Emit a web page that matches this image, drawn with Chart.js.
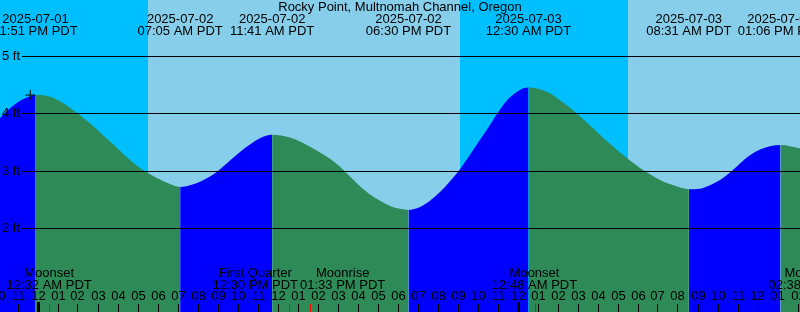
<!DOCTYPE html>
<html>
<head>
<meta charset="utf-8">
<script src="https://cdn.jsdelivr.net/npm/chart.js@4.4.1/dist/chart.umd.min.js"></script>
<style>
  html, body { margin: 0; padding: 0; background: #fff; }
  #wrap { width: 800px; height: 312px; }
</style>
</head>
<body>
<div id="wrap"><canvas id="tideChart" width="800" height="312"></canvas></div>
<script>
'use strict';

// all times are hours from 2025-07-02 00:00 PDT
let sampleHours = [-1.925, -1.425, -0.925, -0.425, -0.15, 0.575, 1.075, 1.575, 2.075, 2.575,
    3.075, 3.575, 4.075, 4.575, 5.075, 5.575, 6.075, 6.575, 7.083, 7.575,
    8.075, 8.575, 9.075, 9.575, 10.075, 10.575, 11.075, 11.683, 12.575, 13.075,
    13.575, 14.075, 14.575, 15.075, 15.575, 16.075, 16.575, 17.075, 17.575, 18.075,
    18.5, 19.075, 19.575, 20.075, 20.575, 21.075, 21.575, 22.075, 22.575, 23.075,
    23.575, 24.075, 24.5, 25.075, 25.575, 26.075, 26.925, 27.575, 28.075, 28.575,
    29.075, 29.575, 30.075, 30.575, 31.075, 31.825, 32.517, 33.075, 33.575, 34.075,
    34.675, 35.075, 35.575, 36.075, 36.575, 37.1, 37.575, 38.075];
let sampleFeet = [3.92, 4.09, 4.22, 4.30, 4.32, 4.29, 4.21, 4.10, 3.97, 3.83,
    3.67, 3.51, 3.35, 3.19, 3.05, 2.94, 2.85, 2.77, 2.72, 2.75,
    2.81, 2.90, 3.03, 3.18, 3.33, 3.46, 3.57, 3.63, 3.58, 3.51,
    3.42, 3.32, 3.21, 3.07, 2.90, 2.73, 2.59, 2.48, 2.39, 2.34,
    2.32, 2.37, 2.48, 2.63, 2.82, 3.03, 3.28, 3.54, 3.80, 4.07,
    4.28, 4.41, 4.45, 4.42, 4.35, 4.23, 4.00, 3.79, 3.63, 3.47,
    3.32, 3.18, 3.05, 2.94, 2.84, 2.74, 2.68, 2.69, 2.75, 2.84,
    3.00, 3.13, 3.27, 3.37, 3.43, 3.45, 3.43, 3.39];

let tideHours = [-0.15, 7.083, 11.683, 18.5, 24.5, 32.517, 37.1];
let tideDates = ['2025-07-01', '2025-07-02', '2025-07-02', '2025-07-02', '2025-07-03', '2025-07-03', '2025-07-03'];
let tideTimes = ['11:51 PM PDT', '07:05 AM PDT', '11:41 AM PDT', '06:30 PM PDT', '12:30 AM PDT', '08:31 AM PDT', '01:06 PM PDT'];

let sunHours = [5.45, 21.05, 29.45];   // sunrise, sunset, sunrise

let moonHours = [0.533, 12.5, 13.55, 24.8, 38.633];
let moonNames = ['Moonset', 'First Quarter', 'Moonrise', 'Moonset', 'Moonrise'];
let moonTimes = ['12:32 AM PDT', '12:30 PM PDT', '01:33 PM PDT', '12:48 AM PDT', '02:38 PM PDT'];

let depthTicks = [2, 3, 4, 5];
let markHour = [-0.41];
let markFeet = [4.32];

const title = 'Rocky Point, Multnomah Channel, Oregon';
const font = '13px "Liberation Sans", Arial, sans-serif';
const nightColor = '#00BFFF';
const dayColor = '#87CEEB';

function hourLabel(h) {
    let hh = ((h % 12) + 12) % 12;
    if (hh === 0) hh = 12;
    return (hh < 10 ? '0' : '') + hh;
}

let tideDecor = {
    id: 'tideDecor',
    beforeDatasetsDraw(chart) {
        let ctx = chart.ctx, a = chart.chartArea, x = chart.scales.x;
        let edges = [x.min].concat(sunHours, [x.max]);
        ctx.save();
        for (let i = 0; i < edges.length - 1; i++) {
            let x0 = Math.round(x.getPixelForValue(edges[i]));
            let x1 = Math.round(x.getPixelForValue(edges[i + 1]));
            ctx.fillStyle = i % 2 === 0 ? nightColor : dayColor;
            ctx.fillRect(x0, a.top, x1 - x0, a.bottom - a.top);
        }
        ctx.restore();
    },
    afterDatasetsDraw(chart) {
        let ctx = chart.ctx, a = chart.chartArea, x = chart.scales.x, y = chart.scales.y;
        ctx.save();
        ctx.font = font;
        ctx.fillStyle = '#000';
        ctx.strokeStyle = '#000';
        ctx.textBaseline = 'middle';

        // depth lines and labels
        ctx.lineWidth = 1;
        for (let d of depthTicks) {
            let py = Math.round(y.getPixelForValue(d)) + 0.5;
            ctx.beginPath();
            ctx.moveTo(22, py);
            ctx.lineTo(a.right, py);
            ctx.stroke();
            ctx.textAlign = 'left';
            ctx.fillText(d + ' ft', 2, py);
        }

        // title and tide event labels
        ctx.textAlign = 'center';
        ctx.fillText(title, a.left + (a.right - a.left) / 2, 7);
        for (let i = 0; i < tideHours.length; i++) {
            let px = x.getPixelForValue(tideHours[i]);
            ctx.fillText(tideDates[i], px, 19.5);
            ctx.fillText(tideTimes[i], px, 31.5);
        }

        // moon labels, pushed apart where they would overlap
        let centers = moonHours.map(h => x.getPixelForValue(h));
        let widths = moonTimes.map((t, i) => Math.max(ctx.measureText(t).width, ctx.measureText(moonNames[i]).width));
        for (let i = 0; i < centers.length - 1; i++) {
            let need = (widths[i] + widths[i + 1]) / 2 + 2;
            let gap = centers[i + 1] - centers[i];
            if (gap < need) {
                let mid = (centers[i] + centers[i + 1]) / 2;
                centers[i] = mid - need / 2;
                centers[i + 1] = mid + need / 2;
            }
        }
        for (let i = 0; i < moonHours.length; i++) {
            ctx.fillText(moonNames[i], centers[i], 273.5);
            ctx.fillText(moonTimes[i], centers[i], 285.5);
        }

        // hour labels and ticks
        for (let h = Math.ceil(x.min) - 1; h <= Math.floor(x.max) + 1; h++) {
            let px = Math.round(x.getPixelForValue(h)) - 1;
            ctx.fillText(hourLabel(h), px + 0.5, 296.5);
            if (h % 24 === 0) {
                ctx.fillRect(px - 1, 302, 3, a.bottom - 302);
            } else {
                ctx.fillRect(px, 304, 1, a.bottom - 304);
            }
        }
        ctx.fillStyle = '#FF0000';
        for (let h of moonHours) {
            let px = Math.round(x.getPixelForValue(h));
            ctx.fillRect(px, 304, 1, a.bottom - 304);
        }
        ctx.restore();
    }
};

// 20 px per hour
let xMin = -38.5 / 20;
let xMax = 761.5 / 20;
// 5 ft at y=56, 2 ft at y=228.3
let ftPx = (228.3 - 56) / 3;
let yMax = 5 + 56 / ftPx;
let yMin = 2 - (312 - 228.3) / ftPx;

let tideChart = document.querySelector('#tideChart');
new Chart(tideChart, {
    type: 'line',
    data: {
        datasets: [
            {
                type: 'scatter',
                data: markHour.map((h, i) => ({x: h, y: markFeet[i]})),
                pointStyle: 'cross',
                pointRadius: 5,
                pointBorderColor: '#000',
                pointBorderWidth: 1,
                order: 0
            },
            {
                data: sampleHours.map((h, i) => ({x: h, y: sampleFeet[i]})),
                borderColor: 'transparent',
                borderWidth: 0,
                pointRadius: 0,
                fill: 'start',
                backgroundColor: '#2E8B57',
                cubicInterpolationMode: 'monotone',
                segment: {
                    backgroundColor: c => c.p1.parsed.y > c.p0.parsed.y ? '#0000FF' : '#2E8B57'
                },
                order: 1
            }
        ]
    },
    options: {
        responsive: false,
        animation: false,
        devicePixelRatio: 1,
        layout: { padding: 0, autoPadding: false },
        plugins: {
            legend: { display: false },
            tooltip: { enabled: false }
        },
        scales: {
            x: { type: 'linear', min: xMin, max: xMax, display: false },
            y: { min: yMin, max: yMax, display: false }
        }
    },
    plugins: [tideDecor]
});
</script>
</body>
</html>
